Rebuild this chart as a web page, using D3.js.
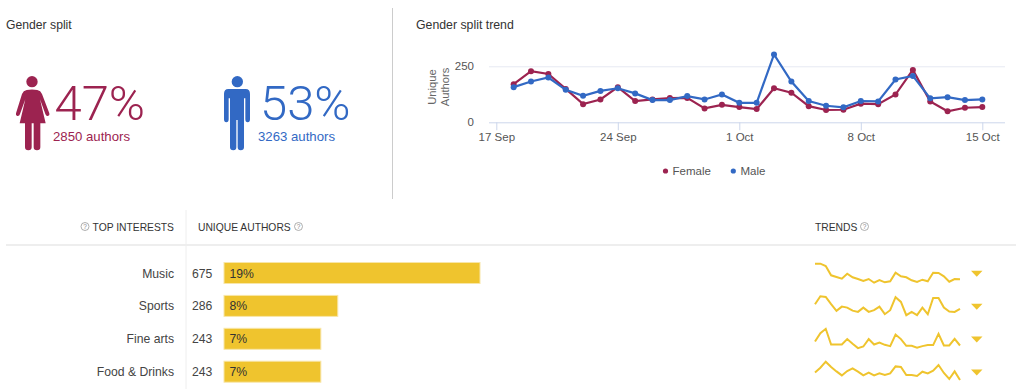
<!DOCTYPE html>
<html>
<head>
<meta charset="utf-8">
<script src="https://cdn.jsdelivr.net/npm/d3@7"></script>
<style>
  html, body { margin: 0; padding: 0; background: #fff; }
  svg { display: block; }
  text { font-family: "Liberation Sans", Arial, sans-serif; }
</style>
</head>
<body>
<div id="chart"></div>
<script>
// trend, one value per day from 18 Sep to 15 Oct
var female = [170, 228, 216, 149, 81, 102, 157, 95, 102, 108, 109, 62, 78, 68, 59, 152, 132, 72, 55, 56, 83, 81, 124, 234, 93, 49, 65, 68];
var male = [157, 182, 200, 145, 118, 140, 152, 129, 99, 99, 117, 102, 124, 87, 87, 303, 182, 95, 74, 67, 95, 93, 191, 207, 107, 112, 99, 102];
var tickDays = ["2013-09-17", "2013-09-24", "2013-10-01", "2013-10-08", "2013-10-15"];
var yTicks = [0, 250];

// top interests table
var interests = ["Music", "Sports", "Fine arts", "Food & Drinks"];
var authors = [675, 286, 243, 243];
var shares = [18.9, 8.4, 7.15, 7.15];
var shareLabels = ["19%", "8%", "7%", "7%"];

// sparklines, same days as the trend
var sparkMusic = [25.3, 25.3, 23, 13.7, 12, 10.3, 15.3, 11.7, 10, 8, 10, 6.3, 9, 6.7, 7.7, 16.3, 12.7, 11.7, 8.7, 7, 9.3, 7.7, 16.3, 16, 12.7, 7.3, 10, 9.7];
var sparkSports = [17.7, 25.7, 25, 17.7, 11, 15.3, 14.3, 11.3, 10, 14.3, 10, 11.7, 15.3, 7.7, 11.7, 24.7, 20, 6.7, 10, 6.7, 14.3, 7.7, 24, 24, 14.3, 10.3, 10, 13];
var sparkFineArts = [13.3, 21.7, 26, 10.3, 10.3, 10.3, 15.7, 11, 6.7, 8.3, 15.7, 10.3, 12.3, 10, 8.7, 20.3, 15.7, 9, 9, 7, 8.7, 9.7, 9.7, 21, 9.3, 9.3, 16, 9.3];
var sparkFood = [15.3, 20, 26, 20.7, 16.3, 12.3, 16.7, 19.3, 16, 12.3, 15, 12.3, 14.3, 12.7, 14.3, 21.3, 20.7, 12.7, 12.7, 11.7, 16, 14.3, 17, 22.7, 14.7, 8.7, 16.3, 7.7];
var sparks = [sparkMusic, sparkSports, sparkFineArts, sparkFood];

var femaleColor = "#9c2350",
    maleColor = "#3269c4",
    barColor = "#efc42e",
    textColor = "#444";

var svg = d3.select("#chart").append("svg")
  .attr("width", 1024)
  .attr("height", 389);

function label(x, y, str, size, color, anchor) {
  return svg.append("text")
    .attr("x", x)
    .attr("y", y)
    .attr("text-anchor", anchor || "start")
    .attr("font-size", size)
    .attr("fill", color || textColor)
    .text(str);
}

// gender split

label(6, 29, "Gender split", 12.2, "#333");
label(416, 29, "Gender split trend", 12.3, "#333");

svg.append("line")
  .attr("x1", 392.5).attr("x2", 392.5)
  .attr("y1", 8).attr("y2", 199)
  .attr("stroke", "#ccc");

var womanPath = "M50 60Q66 57 82 60Q92 62 96 72L118 130Q120 137 114 138Q108 139 106 132L90 88L107 160L91 160L91 232Q91 241 81 241Q71 241 71 232L71 160L65 160L65 232Q65 241 55 241Q45 241 45 232L45 160L29 160L46 88L30 132Q28 139 22 138Q16 137 18 130L36 72Q40 62 50 60Z";
var manPath = "M40 57L92 57Q105 57 105 72L105 148Q105 157 98 157Q91 157 91 148L91 85L87 85L87 232Q87 241 77 241Q68 241 68 232L68 150L64 150L64 232Q64 241 55 241Q45 241 45 232L45 85L41 85L41 148Q41 157 34 157Q27 157 27 148L27 72Q27 57 40 57Z";

function person(x, y, path, headX, color) {
  var g = svg.append("g")
    .attr("transform", `translate(${x},${y}) scale(${1 / 3})`)
    .attr("fill", color);
  g.append("circle").attr("cx", headX).attr("cy", 35).attr("r", 17);
  g.append("path").attr("d", path);
}

person(10, 70, womanPath, 66, femaleColor);
person(215, 70, manPath, 67, maleColor);

function bigNumber(x, str, sub, subX, color) {
  label(x, 120, str, 49, color)
    .style("font-family", "Roboto, sans-serif")
    .attr("font-weight", 300);
  label(subX, 140.5, sub, 13.2, color);
}

bigNumber(54.5, "47%", "2850 authors", 53, femaleColor);
bigNumber(260, "53%", "3263 authors", 258, maleColor);

// trend chart

var parseDay = d3.utcParse("%Y-%m-%d");
var firstDay = parseDay("2013-09-18");
var days = female.map((d, i) => d3.utcDay.offset(firstDay, i));

var x = d3.scaleUtc()
  .domain([parseDay(tickDays[0]), parseDay(tickDays[4])])
  .range([496.3, 982.3]);

var y = d3.scaleLinear()
  .domain([0, 250])
  .range([122.3, 66.3]);

var xAxis = svg.append("g")
  .attr("transform", "translate(0,122.3)")
  .call(d3.axisBottom(x)
    .tickValues(tickDays.map(parseDay))
    .tickFormat(d3.utcFormat("%-d %b"))
    .tickSize(8)
    .tickPadding(3));
xAxis.select(".domain").remove();
xAxis.selectAll("line").attr("stroke", "#ccd6eb");
xAxis.selectAll("text")
  .attr("font-size", 11.5)
  .attr("fill", "#555")
  .style("font-family", "'Liberation Sans', Arial, sans-serif");

var yAxis = svg.append("g")
  .attr("transform", "translate(489,0)")
  .call(d3.axisLeft(y)
    .tickValues(yTicks)
    .tickFormat(d3.format("d"))
    .tickSize(0)
    .tickPadding(15));
yAxis.select(".domain").remove();
yAxis.selectAll("text")
  .attr("font-size", 11.5)
  .attr("fill", "#555")
  .style("font-family", "'Liberation Sans', Arial, sans-serif");
yAxis.selectAll("line")
  .attr("x1", 0)
  .attr("x2", 516)
  .attr("stroke", d => d === 0 ? "#ccd6eb" : "#e6e9f2");

["Unique", "Authors"].forEach(function(t, i) {
  svg.append("text")
    .attr("transform", `translate(${436 + i * 13.3},87) rotate(-90)`)
    .attr("text-anchor", "middle")
    .attr("font-size", 11.2)
    .attr("fill", "#666")
    .text(t);
});

var line = d3.line()
  .x((d, i) => x(days[i]))
  .y(d => y(d));

[[female, femaleColor], [male, maleColor]].forEach(function(s) {
  svg.append("path")
    .attr("d", line(s[0]))
    .attr("fill", "none")
    .attr("stroke", s[1])
    .attr("stroke-width", 2.2);
  svg.append("g").selectAll("circle")
    .data(s[0])
    .join("circle")
      .attr("cx", (d, i) => x(days[i]))
      .attr("cy", d => y(d))
      .attr("r", 3)
      .attr("fill", s[1]);
});

// legend
svg.append("circle").attr("cx", 665.5).attr("cy", 171).attr("r", 2.6).attr("fill", femaleColor);
label(672.5, 175, "Female", 11.5, "#555");
svg.append("circle").attr("cx", 733.3).attr("cy", 171).attr("r", 2.6).attr("fill", maleColor);
label(740.5, 175, "Male", 11.5, "#555");

// table

svg.append("line")
  .attr("x1", 6).attr("x2", 1016)
  .attr("y1", 245).attr("y2", 245)
  .attr("stroke", "#eee")
  .attr("stroke-width", 2);
svg.append("line")
  .attr("x1", 186).attr("x2", 186)
  .attr("y1", 210).attr("y2", 389)
  .attr("stroke", "#eee");

function help(cx, cy) {
  svg.append("circle")
    .attr("cx", cx).attr("cy", cy).attr("r", 4)
    .attr("fill", "none")
    .attr("stroke", "#999")
    .attr("stroke-width", 0.8);
  label(cx, cy + 2.2, "?", 6.5, "#888", "middle");
}

label(174, 231, "TOP INTERESTS", 10.3, "#333", "end");
label(198, 231, "UNIQUE AUTHORS", 10.3, "#333");
label(815, 231, "TRENDS", 10.3, "#333");
help(85, 226.5);
help(298.5, 226.5);
help(864.5, 226.5);

var row = d3.scalePoint()
  .domain(interests)
  .range([273, 371.7]);

var barWidth = d3.scaleLinear()
  .domain([0, 18.9])
  .range([0, 256]);

var sparkX = d3.scaleLinear()
  .domain([0, 27])
  .range([815, 960]);

var sparkY = d3.scaleLinear()
  .domain([0, 30])
  .range([16, -14]);

var sparkLine = d3.line()
  .x((d, i) => sparkX(i))
  .y(d => sparkY(d));

interests.forEach(function(name, i) {
  var cy = row(name);

  label(174, cy + 4.5, name, 12.2, textColor, "end");
  label(192, cy + 4.5, authors[i], 12.2, textColor);

  svg.append("rect")
    .attr("x", 224)
    .attr("y", cy - 10.5)
    .attr("width", barWidth(shares[i]))
    .attr("height", 21)
    .attr("fill", barColor)
    .attr("stroke", "#f8e6a8")
    .attr("stroke-width", 1);

  label(229.5, cy + 4.5, shareLabels[i], 12.2, "#333");

  svg.append("path")
    .attr("transform", `translate(0,${cy})`)
    .attr("d", sparkLine(sparks[i]))
    .attr("fill", "none")
    .attr("stroke", barColor)
    .attr("stroke-width", 2);

  svg.append("path")
    .attr("d", `M971 ${cy - 2.2}L982.5 ${cy - 2.2}L976.75 ${cy + 3.8}Z`)
    .attr("fill", barColor);
});
</script>
</body>
</html>
